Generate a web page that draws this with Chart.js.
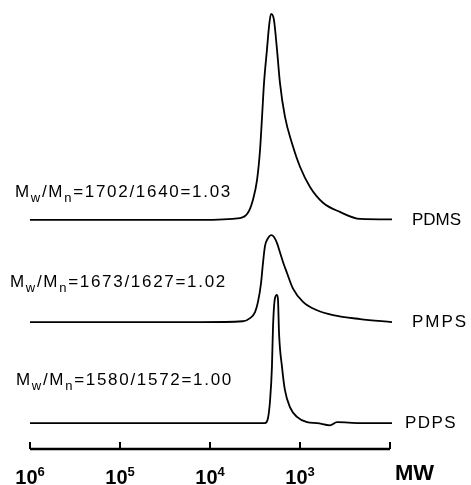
<!DOCTYPE html>
<html>
<head>
<meta charset="utf-8">
<script src="https://cdn.jsdelivr.net/npm/chart.js@4"></script>
<style>
  html, body { margin: 0; padding: 0; background: #fff; }
  #wrap { width: 471px; height: 485px; position: relative; }
</style>
</head>
<body>
<div id="wrap"><canvas id="gpc"></canvas></div>
<script>
// GPC traces: molecular weight (g/mol) vs detector signal (a.u.)
const pdmsMW = [1000000, 12900, 4640, 3790, 3330, 3000, 2780, 2640, 2510, 2330, 2210, 2100, 1950, 1800, 1670, 1470, 1230, 1000, 774, 555, 360, 215, 95];
const pdmsSignal = [0, 0, 0.4, 1.6, 4.6, 9.1, 15.9, 23.5, 31.2, 38.7, 44.0, 46.9, 45.6, 38.7, 31.2, 23.5, 17.5, 12.1, 7.5, 3.9, 1.8, 0.2, 0.1];

const pmpsMW = [1000000, 12900, 4300, 3590, 3160, 2930, 2710, 2580, 2450, 2270, 2100, 1945, 1800, 1670, 1545, 1395, 1200, 926, 647, 430, 215, 95];
const pmpsSignal = [0, 0, 0.2, 0.9, 2.3, 4.6, 8.9, 13.4, 17.3, 19.1, 19.8, 19.4, 18.0, 15.9, 13.7, 11.2, 7.7, 4.6, 2.7, 1.6, 0.7, 0];

const pdpsMW = [1000000, 12900, 2450, 2270, 2150, 2050, 1995, 1895, 1800, 1755, 1710, 1585, 1470, 1290, 1080, 836, 647, 464, 388, 215, 95];
const pdpsSignal = [0, 0, 0, 1.1, 5.2, 12.8, 21.9, 28.5, 29.2, 28.0, 20.5, 12.8, 7.5, 3.6, 1.4, 0.2, 0, -0.5, 0.2, 0, 0];

const traceNames = ['PDMS', 'PMPS', 'PDPS'];
const traceOffsets = [52.2, 28.9, 5.9];
const mwValues = [['1702', '1640', '1.03'], ['1673', '1627', '1.02'], ['1580', '1572', '1.00']];

const decadeTicks = [1e6, 1e5, 1e4, 1e3, 1e2];
const decadeExp = ['6', '5', '4', '3', ''];
const axisTitle = 'MW';

const traces = [
  { mw: pdmsMW, sig: pdmsSignal },
  { mw: pmpsMW, sig: pmpsSignal },
  { mw: pdpsMW, sig: pdpsSignal }
];

const datasets = traces.map((t, i) => ({
  label: traceNames[i],
  data: t.mw.map((m, j) => ({ x: m, y: t.sig[j] + traceOffsets[i] })),
  borderColor: '#000',
  borderWidth: 1.8,
  pointRadius: 0,
  cubicInterpolationMode: 'monotone',
  clip: false,
  fill: false
}));

// text placement (pixels) for the annotations and trace names
const annotPos = [[15, 197], [10, 287], [16, 385]];
const nameSpacing = [0, 2, 1.4];
const nameX = [412, 412, 405];

function drawSpaced(ctx, text, x, y, spacing) {
  ctx.letterSpacing = spacing + 'px';
  ctx.fillText(text, x, y);
  const w = ctx.measureText(text).width;
  ctx.letterSpacing = '0px';
  return w;
}

const gpcDecor = {
  id: 'gpcDecor',
  afterDraw(chart) {
    const ctx = chart.ctx;
    const xs = chart.scales.x;
    const ys = chart.scales.y;
    const area = chart.chartArea;
    ctx.save();
    ctx.fillStyle = '#000';
    ctx.strokeStyle = '#000';

    // bottom axis with inward ticks
    const axisY = area.bottom;
    const x0 = xs.getPixelForValue(decadeTicks[0]);
    const x1 = xs.getPixelForValue(decadeTicks[decadeTicks.length - 1]);
    ctx.lineWidth = 2.3;
    ctx.beginPath();
    ctx.moveTo(x0, axisY);
    ctx.lineTo(x1, axisY);
    ctx.stroke();
    ctx.lineWidth = 2;
    decadeTicks.forEach(v => {
      const px = xs.getPixelForValue(v);
      ctx.beginPath();
      ctx.moveTo(px, axisY);
      ctx.lineTo(px, axisY - 7);
      ctx.stroke();
    });

    // decade labels 10^n
    ctx.textBaseline = 'alphabetic';
    ctx.textAlign = 'left';
    decadeTicks.forEach((v, i) => {
      if (!decadeExp[i]) return;
      const px = xs.getPixelForValue(v);
      ctx.font = 'bold 20px "Liberation Sans", Arial, sans-serif';
      const wb = ctx.measureText('10').width;
      ctx.font = 'bold 13px "Liberation Sans", Arial, sans-serif';
      const we = ctx.measureText(decadeExp[i]).width;
      const left = px - (wb + we) / 2;
      ctx.font = 'bold 20px "Liberation Sans", Arial, sans-serif';
      ctx.fillText('10', left, axisY + 35);
      ctx.font = 'bold 13px "Liberation Sans", Arial, sans-serif';
      ctx.fillText(decadeExp[i], left + wb, axisY + 27);
    });
    ctx.font = 'bold 22px "Liberation Sans", Arial, sans-serif';
    ctx.fillText(axisTitle, x1 + 5, axisY + 31);

    // trace names at right, aligned on each baseline
    ctx.font = '17px "Liberation Sans", Arial, sans-serif';
    ctx.textBaseline = 'middle';
    traceNames.forEach((n, i) => {
      const py = ys.getPixelForValue(traceOffsets[i]);
      drawSpaced(ctx, n, nameX[i], py, nameSpacing[i]);
    });

    // Mw/Mn annotations
    ctx.textBaseline = 'alphabetic';
    const sp = 1.7;
    const big = '17px "Liberation Sans", Arial, sans-serif';
    const small = '13px "Liberation Sans", Arial, sans-serif';
    mwValues.forEach((vals, i) => {
      let x = annotPos[i][0];
      const y = annotPos[i][1];
      ctx.font = big;
      x += drawSpaced(ctx, 'M', x, y, sp);
      ctx.font = small;
      x += drawSpaced(ctx, 'w', x, y + 5, sp);
      ctx.font = big;
      x += drawSpaced(ctx, '/M', x, y, sp);
      ctx.font = small;
      x += drawSpaced(ctx, 'n', x, y + 5, sp);
      ctx.font = big;
      drawSpaced(ctx, '=' + vals[0] + '/' + vals[1] + '=' + vals[2], x, y, sp);
    });
    ctx.restore();
  }
};

new Chart(document.getElementById('gpc'), {
  type: 'line',
  data: { datasets: datasets },
  options: {
    responsive: true,
    maintainAspectRatio: false,
    animation: false,
    layout: { padding: { left: 30, right: 81, top: 10, bottom: 36 } },
    plugins: { legend: { display: false }, tooltip: { enabled: false } },
    scales: {
      x: { type: 'logarithmic', reverse: true, min: 100, max: 1e6, display: false },
      y: { type: 'linear', min: 0, max: 100, display: false }
    }
  },
  plugins: [gpcDecor]
});
</script>
</body>
</html>
